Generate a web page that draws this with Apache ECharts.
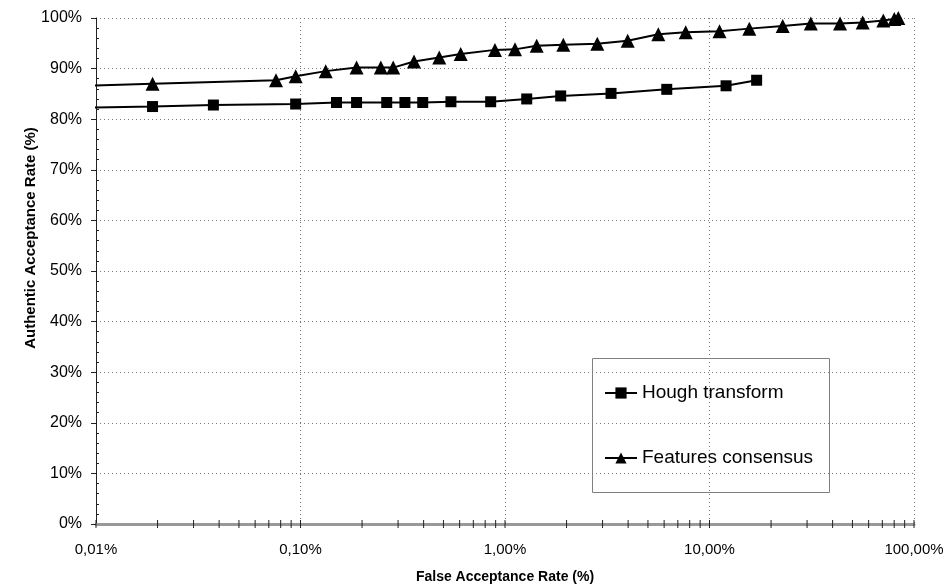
<!DOCTYPE html>
<html>
<head>
<meta charset="utf-8">
<script src="https://cdn.jsdelivr.net/npm/echarts@6/dist/echarts.min.js"></script>
<style>
  html, body { margin: 0; padding: 0; background: #fff; }
  #chart { width: 949px; height: 588px; }
</style>
</head>
<body>
<div id="chart"></div>
<script>
// false acceptance rate (%) -> authentic acceptance rate (%)
// first point of each series lies left of the 0,01% edge, so only its line shows
var houghFar = [0.009, 0.0189, 0.0375, 0.0947, 0.150, 0.188, 0.264, 0.324, 0.396, 0.544, 0.851, 1.277, 1.872, 3.30, 6.18, 12.05, 17.0];
var houghAar = [82.3, 82.5, 82.8, 83.0, 83.3, 83.3, 83.3, 83.3, 83.3, 83.45, 83.45, 84.0, 84.6, 85.1, 85.9, 86.6, 87.7];

var featFar = [0.009, 0.0189, 0.0759, 0.0947, 0.1328, 0.188, 0.247, 0.284, 0.359, 0.477, 0.607, 0.893, 1.119, 1.429, 1.928, 2.827, 3.98, 5.62, 7.65, 11.19, 15.66, 22.8, 31.3, 43.5, 56.1, 70.8, 80.1, 83.8];
var featAar = [86.6, 87.0, 87.7, 88.5, 89.5, 90.2, 90.2, 90.2, 91.4, 92.2, 92.9, 93.7, 93.8, 94.5, 94.7, 94.9, 95.5, 96.8, 97.2, 97.4, 97.9, 98.4, 98.9, 98.9, 99.1, 99.5, 99.8, 100.0];

var xTickLabels = ['0,01%', '0,10%', '1,00%', '10,00%', '100,00%'];
var yTickLabels = ['0%', '10%', '20%', '30%', '40%', '50%', '60%', '70%', '80%', '90%', '100%'];
var seriesNames = ['Hough transform', 'Features consensus'];

// log-axis tick marks (1..9 per decade)
var decades = [0.01, 0.1, 1, 10];
var multipliers = [1, 2, 3, 4, 5, 6, 7, 8, 9];

var font = '"Liberation Sans", Arial, sans-serif';

function pairs(xs, ys) {
    return xs.map(function (x, i) { return [x, ys[i]]; });
}

var xTicks = [];
decades.forEach(function (d) {
    multipliers.forEach(function (m) { xTicks.push([d * m, 0]); });
});
xTicks.push([100, 0]);

var chart = echarts.init(document.getElementById('chart'));

var option = {
    animation: false,
    backgroundColor: '#fff',
    grid: {
        left: 96,
        right: 35,
        top: 18,
        bottom: 64,
        outerBoundsMode: 'none'
    },
    xAxis: {
        type: 'log',
        logBase: 10,
        min: 0.01,
        max: 100,
        name: 'False Acceptance Rate (%)',
        nameLocation: 'middle',
        nameGap: 46,
        nameTextStyle: {
            fontFamily: font,
            fontWeight: 'bold',
            fontSize: 14,
            color: '#000'
        },
        axisLine: {
            lineStyle: { color: '#999', width: 3 }
        },
        axisTick: { show: false },
        axisLabel: {
            margin: 18,
            fontFamily: font,
            fontSize: 15,
            color: '#000',
            formatter: function (v, idx) {
                return xTickLabels[idx];
            }
        },
        splitLine: {
            show: true,
            lineStyle: { color: '#777', type: [1, 3], width: 1 }
        }
    },
    yAxis: [{
        type: 'value',
        min: 0,
        max: 100,
        interval: 10,
        axisLine: {
            show: true,
            lineStyle: { color: '#222', width: 1 }
        },
        axisTick: {
            show: true,
            length: 5,
            lineStyle: { color: '#222' }
        },
        axisLabel: {
            margin: 14,
            fontFamily: font,
            fontSize: 16,
            color: '#000',
            formatter: function (v, idx) {
                return yTickLabels[idx];
            }
        },
        splitLine: {
            show: true,
            lineStyle: { color: '#777', type: [1, 3], width: 1 }
        }
    }, {
        // minor ticks on the inner side of the left axis
        type: 'value',
        position: 'left',
        min: 0,
        max: 100,
        interval: 10,
        axisLine: { show: false },
        axisTick: { show: false, inside: true },
        axisLabel: { show: false },
        splitLine: { show: false },
        minorTick: {
            show: true,
            splitNumber: 5,
            length: 3,
            lineStyle: { color: '#222' }
        }
    }],
    legend: {
        orient: 'vertical',
        left: 604,
        top: 383,
        padding: 0,
        itemWidth: 32,
        itemHeight: 14,
        itemGap: 45,
        data: seriesNames,
        textStyle: {
            fontFamily: font,
            fontSize: 19,
            lineHeight: 20,
            color: '#000'
        }
    },
    graphic: [{
        type: 'rect',
        shape: { x: 592.5, y: 358.5, width: 237, height: 134 },
        style: { fill: 'none', stroke: '#808080', lineWidth: 1 },
        z: 10
    }, {
        type: 'text',
        x: 31,
        y: 238,
        rotation: Math.PI / 2,
        style: {
            text: 'Authentic Acceptance Rate (%)',
            fontFamily: font,
            fontWeight: 'bold',
            fontSize: 15,
            fill: '#000',
            textAlign: 'center',
            textVerticalAlign: 'middle'
        }
    }],
    series: [{
        name: seriesNames[0],
        type: 'line',
        data: pairs(houghFar, houghAar),
        symbol: 'rect',
        symbolSize: 11,
        clip: true,
        itemStyle: { color: '#000' },
        lineStyle: { color: '#000', width: 2 },
        z: 3
    }, {
        name: seriesNames[1],
        type: 'line',
        data: pairs(featFar, featAar),
        symbol: 'triangle',
        symbolSize: [14, 14],
        clip: true,
        itemStyle: { color: '#000' },
        lineStyle: { color: '#000', width: 2 },
        z: 3
    }, {
        type: 'custom',
        data: xTicks,
        clip: false,
        silent: true,
        z: 4,
        renderItem: function (params, api) {
            var p = api.coord([api.value(0), api.value(1)]);
            return {
                type: 'line',
                shape: { x1: p[0], y1: p[1] - 4, x2: p[0], y2: p[1] + 4 },
                style: { stroke: '#222', lineWidth: 1 }
            };
        }
    }]
};

chart.setOption(option);
</script>
</body>
</html>
